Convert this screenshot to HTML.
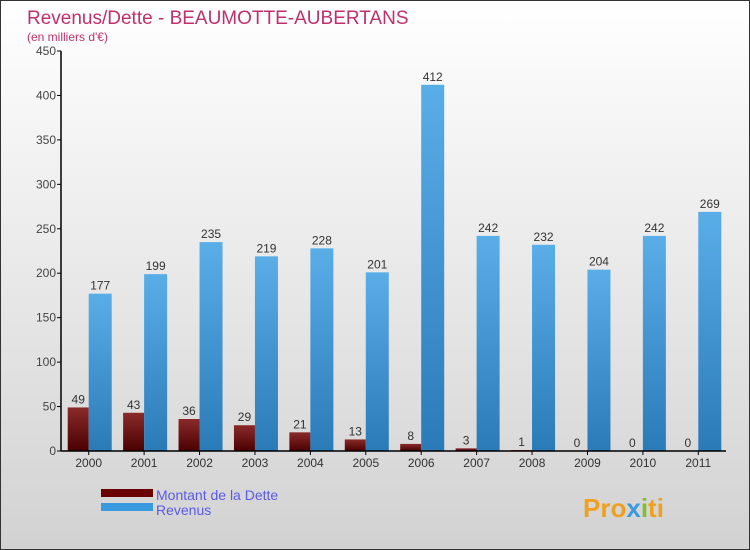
<!DOCTYPE html>
<html><head><meta charset="utf-8"><style>
body{margin:0}
#c{width:750px;height:550px;position:relative;background:linear-gradient(#ffffff,#d2d2d2);border:1px solid #333;box-sizing:border-box;font-family:"Liberation Sans",sans-serif;overflow:hidden}
</style></head><body>
<div id="c">
<svg id="s" width="750" height="550" style="position:absolute;left:0;top:0">
<defs>
<linearGradient id="gd" x1="0" y1="0" x2="0" y2="1"><stop offset="0" stop-color="#8a2a2a"/><stop offset="1" stop-color="#4a0000"/></linearGradient>
<linearGradient id="gr" x1="0" y1="0" x2="0" y2="1"><stop offset="0" stop-color="#5aaee8"/><stop offset="1" stop-color="#2a7ab8"/></linearGradient>
</defs>
<text x="26" y="23" font-size="19" fill="#c0306a">Revenus/Dette - BEAUMOTTE-AUBERTANS</text>
<text x="26" y="40" font-size="12" fill="#c0306a">(en milliers d'€)</text>
<g id="plot"></g>
<rect x="100" y="488" width="52" height="8" fill="#6a0000"/>
<text x="155" y="499" font-size="14" fill="#5a5ae8">Montant de la Dette</text>
<rect x="100" y="502" width="52" height="8" fill="#3a9ae0"/>
<text x="155" y="514" font-size="14" fill="#5a5ae8">Revenus</text>
<text x="582" y="516" font-size="26" font-weight="bold" fill="#f0a020">Pro<tspan fill="#3a9ae0">x</tspan><tspan fill="#80c030">i</tspan>ti</text>
</svg>
</div>
<script>
const years=["2000","2001","2002","2003","2004","2005","2006","2007","2008","2009","2010","2011"];
const dette=[49,43,36,29,21,13,8,3,1,0,0,0];
const revenus=[177,199,235,219,228,201,412,242,232,204,242,269];
const yTicks=[0,50,100,150,200,250,300,350,400,450];
const NS="http://www.w3.org/2000/svg";
const g=document.getElementById('plot');
const X0=60,X1=725,Y0=450,Y1=50,MAX=450;
const step=(X1-X0)/years.length;
const y=v=>Y0-(v/MAX)*(Y0-Y1);
const cx=i=>X0+step*(i+0.5);
function mk(t,a){const e=document.createElementNS(NS,t);for(const k in a)e.setAttribute(k,a[k]);g.appendChild(e);return e;}
yTicks.forEach(t=>{
 const l=mk('line',{x1:X0-4,x2:X0,y1:y(t),y2:y(t),stroke:'#000'});
 
 
 const tx=mk('text',{x:X0-5,y:y(t)+4,'font-size':12,fill:'#444','text-anchor':'end'});
 tx.textContent=t;
 
 
});
years.forEach((yr,i)=>{
 const c=cx(i);
 const d=mk('rect',{x:c-21,y:y(dette[i]),width:21,height:Y0-y(dette[i]),fill:'url(#gd)'});
 
 
 const r=mk('rect',{x:c,y:y(revenus[i]),width:23,height:Y0-y(revenus[i]),fill:'url(#gr)'});
 
 
 const dl=mk('text',{x:c-10.5,y:y(dette[i])-4,'font-size':12,fill:'#333','text-anchor':'middle'});
 dl.textContent=dette[i];
 
 
 const rl=mk('text',{x:c+11.5,y:y(revenus[i])-4,'font-size':12,fill:'#333','text-anchor':'middle'});
 rl.textContent=revenus[i];
 
 
 const xl=mk('text',{x:c,y:Y0+16,'font-size':12,fill:'#333','text-anchor':'middle'});
 xl.textContent=yr;
 
 
 const xt=mk('line',{x1:c,x2:c,y1:Y0,y2:Y0+4,stroke:'#000'});
 
 
});
const ya=mk('line',{x1:X0,x2:X0,y1:Y1,y2:Y0,stroke:'#000','stroke-width':1.5});


const xa=mk('line',{x1:X0,x2:X1,y1:Y0,y2:Y0,stroke:'#000','stroke-width':1.5});


</script>
</body></html>
